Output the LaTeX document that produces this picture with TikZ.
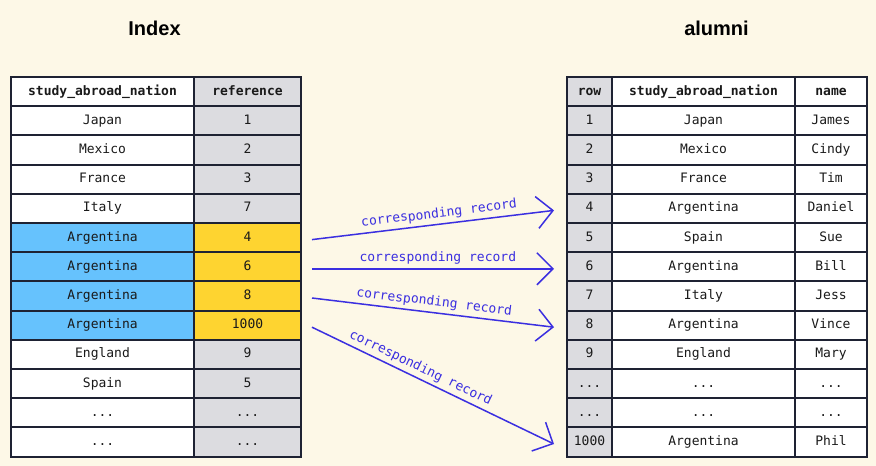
\documentclass[tikz,border=0pt]{standalone}
\usepackage{fontspec}
\setmainfont{Liberation Sans}
\setmonofont{DejaVu Sans Mono}
\usetikzlibrary{arrows.meta}
\definecolor{paper}{HTML}{FDF8E7}
\definecolor{edge}{HTML}{1E2233}
\definecolor{ink}{HTML}{1A1A1A}
\definecolor{greycell}{HTML}{DCDCE0}
\definecolor{bluecell}{HTML}{66C2FD}
\definecolor{yellowcell}{HTML}{FED430}
\definecolor{linkblue}{HTML}{3B2FE0}

\begin{document}
\begin{tikzpicture}[x=1pt,y=-1pt,
    cell/.style={draw=edge, line width=2pt, fill=white, text=ink, inner sep=0pt,
        minimum height=29.2pt, text height=9.5pt, text depth=2.5pt,
        font=\ttfamily\fontsize{13}{15}\selectfont},
    head/.style={cell, font=\ttfamily\bfseries\fontsize{13}{15}\selectfont},
    nat/.style={minimum width=183pt},
    refc/.style={minimum width=107pt, fill=greycell},
    rowc/.style={minimum width=45pt, fill=greycell},
    namec/.style={minimum width=72pt},
    hit/.style={fill=bluecell},
    hitref/.style={fill=yellowcell},
    title/.style={font=\bfseries\fontsize{20}{24}\selectfont, text=black},
    link/.style={draw=linkblue, line width=1.5pt, -{Straight Barb[length=16pt,width=32pt]}},
    linklabel/.style={sloped, above, text=linkblue, font=\ttfamily\fontsize{13}{15}\selectfont}]

    \fill[paper] (0,0) rectangle (876,466);

    \node[title] (T1) at (154.5,28.5) {Index};
    \node[title] (T2) at (716.5,28.5) {alumni};

    % Index table
    \node[head,nat] (IN0) at (102.5,91.6) {study\_abroad\_nation};
    \node[head,refc] (IR0) at (247.5,91.6) {reference};
    \node[cell,nat] (IN1) at (102.5,120.8) {Japan};
    \node[cell,refc] (IR1) at (247.5,120.8) {1};
    \node[cell,nat] (IN2) at (102.5,150.0) {Mexico};
    \node[cell,refc] (IR2) at (247.5,150.0) {2};
    \node[cell,nat] (IN3) at (102.5,179.2) {France};
    \node[cell,refc] (IR3) at (247.5,179.2) {3};
    \node[cell,nat] (IN4) at (102.5,208.4) {Italy};
    \node[cell,refc] (IR4) at (247.5,208.4) {7};
    \node[cell,nat,hit] (IN5) at (102.5,237.6) {Argentina};
    \node[cell,refc,hitref] (IR5) at (247.5,237.6) {4};
    \node[cell,nat,hit] (IN6) at (102.5,266.8) {Argentina};
    \node[cell,refc,hitref] (IR6) at (247.5,266.8) {6};
    \node[cell,nat,hit] (IN7) at (102.5,296.0) {Argentina};
    \node[cell,refc,hitref] (IR7) at (247.5,296.0) {8};
    \node[cell,nat,hit] (IN8) at (102.5,325.2) {Argentina};
    \node[cell,refc,hitref] (IR8) at (247.5,325.2) {1000};
    \node[cell,nat] (IN9) at (102.5,354.4) {England};
    \node[cell,refc] (IR9) at (247.5,354.4) {9};
    \node[cell,nat] (IN10) at (102.5,383.6) {Spain};
    \node[cell,refc] (IR10) at (247.5,383.6) {5};
    \node[cell,nat] (IN11) at (102.5,412.8) {...};
    \node[cell,refc] (IR11) at (247.5,412.8) {...};
    \node[cell,nat] (IN12) at (102.5,442.0) {...};
    \node[cell,refc] (IR12) at (247.5,442.0) {...};

    % alumni table
    \node[head,rowc] (AR0) at (589.5,91.6) {row};
    \node[head,nat] (AN0) at (703.5,91.6) {study\_abroad\_nation};
    \node[head,namec] (AM0) at (831,91.6) {name};
    \node[cell,rowc] (AR1) at (589.5,120.8) {1};
    \node[cell,nat] (AN1) at (703.5,120.8) {Japan};
    \node[cell,namec] (AM1) at (831,120.8) {James};
    \node[cell,rowc] (AR2) at (589.5,150.0) {2};
    \node[cell,nat] (AN2) at (703.5,150.0) {Mexico};
    \node[cell,namec] (AM2) at (831,150.0) {Cindy};
    \node[cell,rowc] (AR3) at (589.5,179.2) {3};
    \node[cell,nat] (AN3) at (703.5,179.2) {France};
    \node[cell,namec] (AM3) at (831,179.2) {Tim};
    \node[cell,rowc] (AR4) at (589.5,208.4) {4};
    \node[cell,nat] (AN4) at (703.5,208.4) {Argentina};
    \node[cell,namec] (AM4) at (831,208.4) {Daniel};
    \node[cell,rowc] (AR5) at (589.5,237.6) {5};
    \node[cell,nat] (AN5) at (703.5,237.6) {Spain};
    \node[cell,namec] (AM5) at (831,237.6) {Sue};
    \node[cell,rowc] (AR6) at (589.5,266.8) {6};
    \node[cell,nat] (AN6) at (703.5,266.8) {Argentina};
    \node[cell,namec] (AM6) at (831,266.8) {Bill};
    \node[cell,rowc] (AR7) at (589.5,296.0) {7};
    \node[cell,nat] (AN7) at (703.5,296.0) {Italy};
    \node[cell,namec] (AM7) at (831,296.0) {Jess};
    \node[cell,rowc] (AR8) at (589.5,325.2) {8};
    \node[cell,nat] (AN8) at (703.5,325.2) {Argentina};
    \node[cell,namec] (AM8) at (831,325.2) {Vince};
    \node[cell,rowc] (AR9) at (589.5,354.4) {9};
    \node[cell,nat] (AN9) at (703.5,354.4) {England};
    \node[cell,namec] (AM9) at (831,354.4) {Mary};
    \node[cell,rowc] (AR10) at (589.5,383.6) {...};
    \node[cell,nat] (AN10) at (703.5,383.6) {...};
    \node[cell,namec] (AM10) at (831,383.6) {...};
    \node[cell,rowc] (AR11) at (589.5,412.8) {...};
    \node[cell,nat] (AN11) at (703.5,412.8) {...};
    \node[cell,namec] (AM11) at (831,412.8) {...};
    \node[cell,rowc] (AR12) at (589.5,442.0) {1000};
    \node[cell,nat] (AN12) at (703.5,442.0) {Argentina};
    \node[cell,namec] (AM12) at (831,442.0) {Phil};

    % links
    \draw[link] ([xshift=10pt,yshift=-2pt]IR5.east) -- ([xshift=-12pt,yshift=-2pt]AR4.west)
        node[linklabel,pos=0.53] {corresponding record};
    \draw[link] ([xshift=10pt,yshift=-2pt]IR6.east) -- ([xshift=-12pt,yshift=-2pt]AR6.west)
        node[linklabel,pos=0.52] {corresponding record};
    \draw[link] ([xshift=10pt,yshift=-2pt]IR7.east) -- ([xshift=-12pt,yshift=-2pt]AR8.west)
        node[linklabel,pos=0.5] {corresponding record};
    \draw[link] ([xshift=10pt,yshift=-2pt]IR8.east) -- ([xshift=-12pt,yshift=-2pt]AR12.west)
        node[linklabel,pos=0.43] {corresponding record};

\end{tikzpicture}
\end{document}
